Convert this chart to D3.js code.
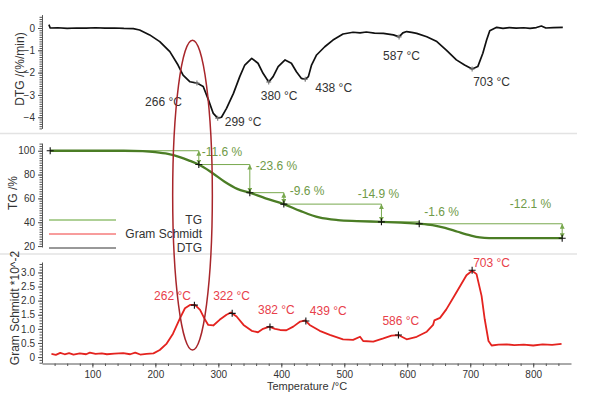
<!DOCTYPE html>
<html>
<head>
<meta charset="utf-8">
<script src="https://cdn.jsdelivr.net/npm/d3@7"></script>
<style>
body{margin:0;background:#fff;}
svg{display:block;font-family:"Liberation Sans",Arial,sans-serif;}
</style>
</head>
<body>
<div id="canvas"></div>
<script>
// DTG curve (%/min)
var dtgTemp = [31, 33, 45, 60, 75, 90, 105, 120, 135, 150,
  165, 175, 191, 207, 223, 236, 244, 255, 266, 276,
  284, 292, 299, 305, 313, 324, 334, 342, 353, 363,
  371, 380, 387, 395, 406, 416, 424, 432, 438, 443,
  448, 456, 469, 482, 498, 514, 525, 535, 548, 562,
  578, 587, 593, 599, 607, 615, 631, 647, 662, 678,
  691, 703, 712, 720, 726, 731, 742, 752, 762, 773,
  785, 795, 805, 813, 820, 832, 847];
var dtgValue = [0.15, 0.00, 0.01, -0.02, 0.00, -0.01, 0.01, -0.01, 0.00, -0.02,
  -0.03, -0.09, -0.31, -0.61, -1.06, -1.66, -2.11, -2.41, -2.47, -2.62,
  -3.20, -3.83, -4.04, -4.00, -3.60, -2.93, -2.18, -1.66, -1.36, -1.58,
  -2.03, -2.42, -2.18, -1.73, -1.43, -1.58, -1.96, -2.26, -2.30, -2.18,
  -1.66, -1.21, -0.84, -0.54, -0.27, -0.19, -0.22, -0.18, -0.23, -0.24,
  -0.31, -0.40, -0.22, -0.16, -0.20, -0.24, -0.39, -0.61, -0.99, -1.43,
  -1.66, -1.84, -1.73, -1.13, -0.54, -0.12, 0.03, -0.02, 0.02, -0.01,
  0.01, -0.02, 0.02, 0.09, 0.00, 0.02, 0.03];
var dtgPeakTemp = [266, 299, 380, 438, 587, 703];
var dtgPeakValue = [-2.47, -4.04, -2.42, -2.30, -0.40, -1.84];

// TG curve (%)
var tgTemp = [33, 100, 150, 180, 200, 220, 240, 255, 269, 290,
  310, 330, 350, 375, 404, 430, 460, 490, 520, 559,
  590, 619, 640, 660, 680, 700, 715, 730, 780, 846];
var tgValue = [100, 100, 100, 99.6, 98.8, 97.3, 94.5, 91.5, 88.4, 81.5,
  74.0, 68.0, 64.8, 60.0, 55.2, 49.5, 44.0, 41.8, 41.0, 40.3,
  39.6, 38.7, 37.5, 35.2, 32.0, 29.0, 27.3, 26.7, 26.6, 26.6];
var stepTemp = [33, 269, 350, 404, 559, 619, 846];
var stepValue = [100, 88.4, 64.8, 55.2, 40.3, 38.7, 26.6];
var stepLabels = ['-11.6 %', '-23.6 %', '-9.6 %', '-14.9 %', '-1.6 %', '-12.1 %'];

// Gram Schmidt curve (*10^-2)
var gsTemp = [35, 42, 49, 56, 63, 70, 80, 90, 96, 105,
  115, 123, 135, 149, 160, 168, 176, 186, 197, 207,
  218, 228, 239, 247, 255, 263, 271, 279, 284, 292,
  302, 313, 320, 329, 340, 353, 363, 371, 381, 390,
  398, 408, 419, 430, 438, 445, 461, 477, 498, 514,
  525, 530, 546, 562, 575, 586, 599, 615, 631, 641,
  643, 652, 662, 673, 684, 694, 703, 710, 718, 723,
  729, 734, 745, 758, 770, 785, 800, 815, 830, 845];
var gsValue = [0.11, 0.08, 0.15, 0.10, 0.14, 0.09, 0.13, 0.10, 0.16, 0.11,
  0.13, 0.10, 0.12, 0.14, 0.10, 0.16, 0.09, 0.11, 0.13, 0.25,
  0.48, 0.83, 1.37, 1.73, 1.85, 1.85, 1.67, 1.32, 1.14, 1.12,
  1.32, 1.50, 1.58, 1.44, 1.14, 0.93, 0.88, 1.00, 1.08, 1.00,
  0.96, 0.95, 1.08, 1.26, 1.30, 1.14, 0.93, 0.79, 0.63, 0.61,
  0.72, 0.57, 0.55, 0.66, 0.76, 0.78, 0.63, 0.72, 0.90, 1.14,
  1.30, 1.39, 1.69, 2.10, 2.52, 2.90, 3.06, 2.94, 2.17, 1.34,
  0.57, 0.41, 0.44, 0.45, 0.42, 0.44, 0.41, 0.45, 0.43, 0.47];
var gsPeakTemp = [262, 322, 382, 439, 586, 703];
var gsPeakValue = [1.84, 1.55, 1.07, 1.28, 0.78, 3.08];

// axis ticks
var xTicks = [100, 200, 300, 400, 500, 600, 700, 800];
var dtgTicks = [-4, -3, -2, -1, 0];
var tgTicks = [20, 40, 60, 80, 100];
var gsTicks = [0, 0.5, 1.0, 1.5, 2.0, 2.5, 3.0];
var legendNames = ['TG', 'Gram Schmidt', 'DTG'];

var W = 600, H = 397;
var green = '#4b7d25', lightGreen = '#78a84e', red = '#e4231f', ink = '#333';

var svg = d3.select('#canvas').append('svg')
    .attr('width', W)
    .attr('height', H);

var x = d3.scaleLinear().domain([20, 860]).range([42, 571]);
var yDtg = d3.scaleLinear().domain([-4.5, 0.6]).range([128.4, 14.6]);
var yTg = d3.scaleLinear().domain([19.2, 106.5]).range([247, 143]);
var yGs = d3.scaleLinear().domain([-0.21, 3.37]).range([363, 262]);

// panel separators
svg.selectAll('.sep')
    .data([133.5, 254])
    .enter().append('line')
    .attr('x1', 0).attr('x2', 577)
    .attr('y1', function(d){ return d; })
    .attr('y2', function(d){ return d; })
    .attr('stroke', '#e3e3e3')
    .attr('stroke-width', 1.5);

// axes
function styleAxis(g){
    g.selectAll('path,line').attr('stroke', '#555');
    g.selectAll('text').attr('fill', ink).style('font-size', '10px');
}

function yAxis(scale, major, step, fmt){
    var d = scale.domain();
    var minor = d3.range(Math.ceil(d[0] / step) * step, d[1], step);
    var g = svg.append('g').attr('transform', 'translate(42,0)');
    g.append('g').call(d3.axisLeft(scale).tickValues(minor).tickSize(2.5).tickSizeOuter(0).tickFormat(''))
        .call(styleAxis);
    g.append('g').call(d3.axisLeft(scale).tickValues(major).tickSize(4).tickPadding(3).tickFormat(fmt))
        .call(styleAxis)
        .select('.domain').remove();
}

yAxis(yDtg, dtgTicks, 0.1, d3.format('d'));
yAxis(yTg, tgTicks, 2, d3.format('d'));
yAxis(yGs, gsTicks, 0.1, function(d){ return d === 0 ? '0' : d3.format('.1f')(d); });

var xg = svg.append('g').attr('transform', 'translate(0,' + 363.5 + ')');
xg.append('g').call(d3.axisBottom(x).tickValues(d3.range(40, 860, 20)).tickSize(2.5).tickSizeOuter(0).tickFormat(''))
    .call(styleAxis);
xg.append('g').call(d3.axisBottom(x).tickValues(xTicks).tickSize(4).tickPadding(3))
    .call(styleAxis)
    .select('.domain').remove();

// axis titles
function yTitle(txt, tx, ty){
    svg.append('text')
        .attr('transform', 'translate(' + tx + ',' + ty + ') rotate(-90)')
        .attr('text-anchor', 'middle')
        .attr('fill', ink)
        .style('font-size', '12px')
        .text(txt);
}
yTitle('DTG /(%/min)', 24, 69);
yTitle('TG /%', 17, 193);
yTitle('Gram Schmidt *10^-2', 19, 308);

svg.append('text')
    .attr('x', 307).attr('y', 390)
    .attr('text-anchor', 'middle')
    .attr('fill', ink)
    .style('font-size', '11px')
    .text('Temperature /°C');

// curves
function drawLine(ts, vs, scale, color, width, curve){
    var line = d3.line()
        .x(function(d){ return x(d[0]); })
        .y(function(d){ return scale(d[1]); })
        .curve(curve || d3.curveLinear);
    svg.append('path')
        .datum(d3.zip(ts, vs))
        .attr('d', line)
        .attr('fill', 'none')
        .attr('stroke', color)
        .attr('stroke-width', width)
        .attr('stroke-linejoin', 'round');
}

function cross(px, py, r, color){
    svg.append('path')
        .attr('d', 'M' + (px - r) + ',' + py + 'H' + (px + r) + 'M' + px + ',' + (py - r) + 'V' + (py + r))
        .attr('stroke', color)
        .attr('stroke-width', 1.1);
}

drawLine(dtgTemp, dtgValue, yDtg, '#111', 1.7);

// TG step annotations
var defs = svg.append('defs');
defs.append('marker')
    .attr('id', 'head')
    .attr('viewBox', '0 0 6 6')
    .attr('refX', 6).attr('refY', 3)
    .attr('markerWidth', 5).attr('markerHeight', 5)
    .attr('orient', 'auto-start-reverse')
    .append('path').attr('d', 'M0,0L6,3L0,6z').attr('fill', lightGreen);

var stepLabelPos = [[3, 1, 'start'], [6, 1, 'start'], [6, -1.6, 'start'],
    [-3, -10.6, 'middle'], [5, -10, 'start'], [-11, -20, 'end']];

for (var i = 1; i < stepTemp.length; i++){
    var x0 = x(stepTemp[i - 1]), x1 = x(stepTemp[i]);
    var yTop = yTg(stepValue[i - 1]), yBot = yTg(stepValue[i]);
    svg.append('line')
        .attr('x1', x0).attr('x2', x1).attr('y1', yTop).attr('y2', yTop)
        .attr('stroke', lightGreen).attr('stroke-width', 1);
    var arrow = svg.append('line')
        .attr('x1', x1).attr('x2', x1).attr('y1', yTop).attr('y2', yBot)
        .attr('stroke', lightGreen).attr('stroke-width', 1);
    if (yBot - yTop > 6) arrow.attr('marker-start', 'url(#head)').attr('marker-end', 'url(#head)');
    var p = stepLabelPos[i - 1];
    svg.append('text')
        .attr('x', x1 + p[0]).attr('y', yTop + p[1])
        .attr('dy', '0.35em')
        .attr('text-anchor', p[2])
        .attr('fill', '#6f9a48')
        .style('font-size', '12px')
        .text(stepLabels[i - 1]);
}

drawLine(tgTemp, tgValue, yTg, green, 2.3, d3.curveMonotoneX);
stepTemp.forEach(function(t, i){ cross(x(t), yTg(stepValue[i]), 3.5, '#111'); });

drawLine(gsTemp, gsValue, yGs, red, 1.8);

// peak markers and labels
var dtgLabelPos = [[-15, 18.7, 'end'], [7, 4, 'start'], [-8, 14, 'start'],
    [10, 8, 'start'], [-16, 19, 'start'], [1, 13, 'start']];
dtgPeakTemp.forEach(function(t, i){
    var px = x(t), py = yDtg(dtgPeakValue[i]), p = dtgLabelPos[i];
    cross(px, py, 2.5, '#777');
    svg.append('text')
        .attr('x', px + p[0]).attr('y', py + p[1])
        .attr('dy', '0.35em')
        .attr('text-anchor', p[2])
        .attr('fill', ink)
        .style('font-size', '12px')
        .text(t + ' °C');
});

var gsLabelPos = [[-3.5, -9.3, 'end'], [-19, -17.6, 'start'], [-12, -16.7, 'start'],
    [4, -10, 'start'], [-16, -14, 'start'], [1, -7.3, 'start']];
gsPeakTemp.forEach(function(t, i){
    var px = x(t), py = yGs(gsPeakValue[i]), p = gsLabelPos[i];
    cross(px, py, 3.5, '#111');
    svg.append('text')
        .attr('x', px + p[0]).attr('y', py + p[1])
        .attr('dy', '0.35em')
        .attr('text-anchor', p[2])
        .attr('fill', '#e8404a')
        .style('font-size', '12px')
        .text(t + ' °C');
});

// legend
var legendColors = ['#5ea12f', '#f03a3a', '#333'];
legendNames.forEach(function(n, i){
    var ly = 220 + i * 14;
    svg.append('line')
        .attr('x1', 49).attr('x2', 116).attr('y1', ly).attr('y2', ly)
        .attr('stroke', legendColors[i]).attr('stroke-width', 1);
    svg.append('text')
        .attr('x', 202).attr('y', ly)
        .attr('dy', '0.35em')
        .attr('text-anchor', 'end')
        .attr('fill', ink)
        .style('font-size', '12px')
        .text(n);
});

// highlight ellipse around the first decomposition step
var eTop = yDtg(-0.55), eBot = yGs(0.25);
svg.append('ellipse')
    .attr('cx', x(259))
    .attr('cy', (eTop + eBot) / 2)
    .attr('rx', x(290.5) - x(259))
    .attr('ry', (eBot - eTop) / 2)
    .attr('fill', 'none')
    .attr('stroke', '#a8262b')
    .attr('stroke-width', 1.5);
</script>
</body>
</html>
